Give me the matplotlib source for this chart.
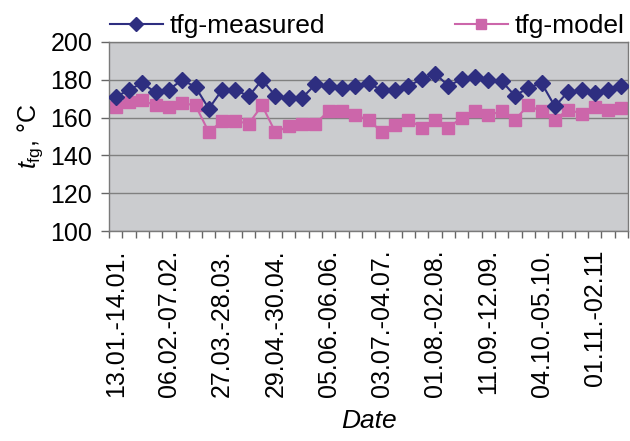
import matplotlib
matplotlib.use("Agg")
import matplotlib.pyplot as plt
import numpy as np

plt.rcParams['font.family'] = ['Liberation Sans', 'DejaVu Sans']
plt.rcParams['mathtext.fontset'] = 'custom'
plt.rcParams['mathtext.rm'] = 'Liberation Sans'
plt.rcParams['mathtext.it'] = 'Liberation Sans:italic'

# weekly flue gas temperatures, one point per measuring period
measured = [170.8, 174.7, 178.2, 173.3, 174.7, 180.0, 176.1, 164.7, 174.7, 174.7,
            171.2, 180.0, 171.5, 170.3, 170.3, 177.5, 176.5, 175.8, 176.5, 178.2,
            174.4, 174.4, 176.8, 180.3, 183.2, 176.8, 180.3, 181.4, 179.6, 179.3,
            171.5, 175.8, 178.2, 165.9, 173.7, 174.4, 172.9, 174.4, 176.8]
model = [165.5, 168.2, 169.1, 166.4, 165.5, 167.7, 166.4, 152.3, 158.2, 158.2,
         156.8, 166.4, 152.3, 155.4, 156.8, 156.8, 163.4, 163.4, 161.2, 158.9,
         152.3, 155.9, 158.9, 154.7, 158.9, 154.7, 159.9, 163.4, 161.2, 163.4,
         158.9, 166.4, 163.4, 158.9, 164.2, 162.1, 165.5, 164.2, 165.2]
date_labels = ['13.01.-14.01.', '06.02.-07.02.', '27.03.-28.03.', '29.04.-30.04.',
               '05.06.-06.06.', '03.07.-04.07.', '01.08.-02.08.', '11.09.-12.09.',
               '04.10.-05.10.', '01.11.-02.11']
label_step = 4
y_ticks = [100, 120, 140, 160, 180, 200]

navy = '#2e2e80'
pink = '#cc66aa'
fs = 18

fig = plt.figure(figsize=(6.3, 4.41), dpi=100)
fig.subplots_adjust(left=0.173, right=0.997, top=0.905, bottom=0.476)
ax = fig.add_subplot(111)
ax.set_facecolor('#cbcccf')

x = np.arange(len(measured))
ax.plot(x, measured, color=navy, lw=1.5, marker='D', ms=8.5, label='tfg-measured', zorder=3)
ax.plot(x, model, color=pink, lw=1.5, marker='s', ms=9, label='tfg-model', zorder=2)

ax.set_xlim(-0.5, len(measured) - 0.5)
ax.set_ylim(100, 200)
ax.set_yticks(y_ticks)
ax.tick_params(axis='y', labelsize=fs, length=6, width=1, color='#666666', pad=6)
ax.yaxis.grid(True, color='#808080', lw=1)
ax.set_axisbelow(True)

ax.set_xticks(x[::label_step][:len(date_labels)])
ax.set_xticklabels(date_labels, rotation=90, fontsize=fs)
ax.set_xticks(np.arange(len(measured) + 1) - 0.5, minor=True)
ax.tick_params(axis='x', which='major', length=0, pad=13)
ax.tick_params(axis='x', which='minor', length=5, width=1, color='#666666')

for s in ax.spines.values():
    s.set_color('#7a7a7a')
    s.set_linewidth(1)

ax.set_ylabel(r'$t_{\mathrm{fg}}$, °C', fontsize=fs, labelpad=4)
ax.set_xlabel('Date', fontsize=19, style='italic', labelpad=9)

ax.legend(loc='lower left', bbox_to_anchor=(-0.003, 1.005), ncol=2, frameon=False,
          fontsize=19, handlelength=2.0, handletextpad=0.27, columnspacing=4.9,
          markerscale=0.85, borderaxespad=0, borderpad=0.1)

fig.savefig('out.png', dpi=100)
